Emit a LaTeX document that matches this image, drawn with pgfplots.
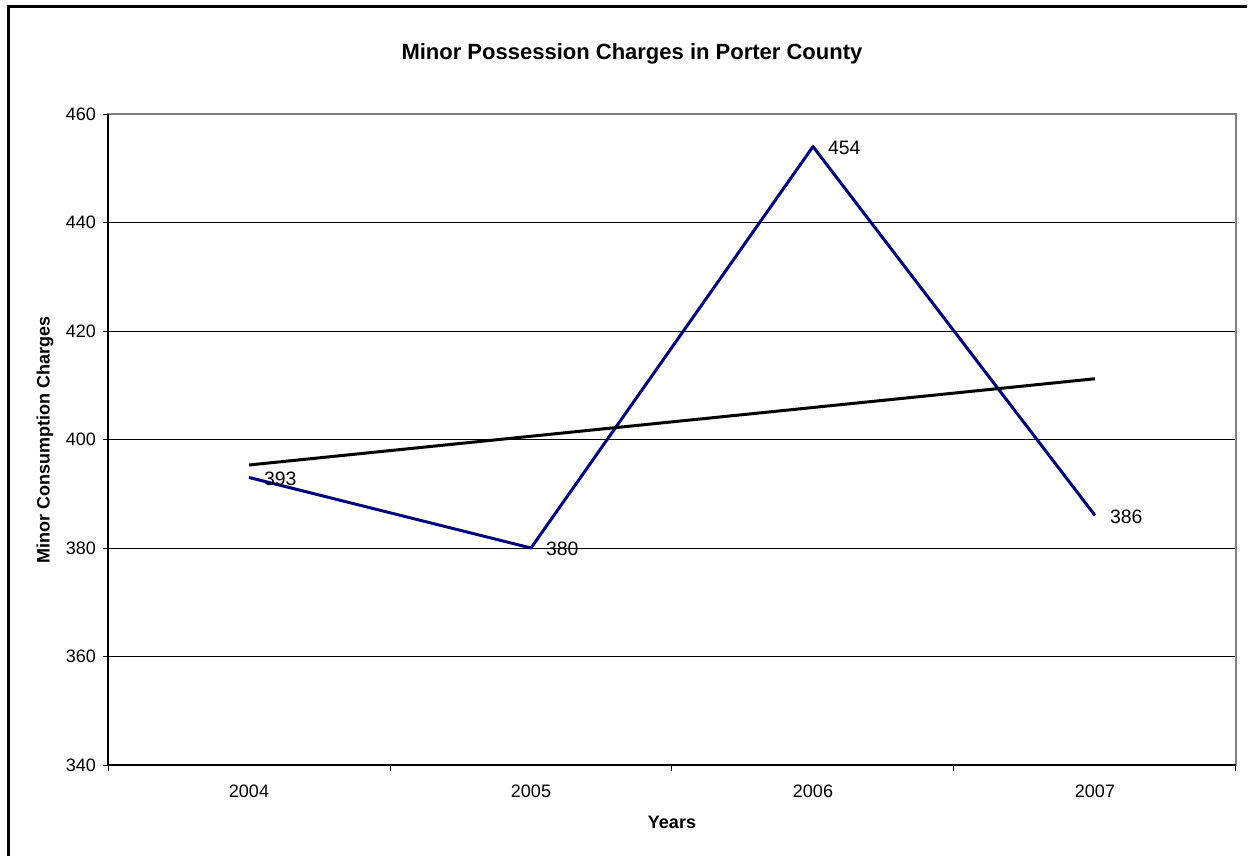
\documentclass[border=0pt]{standalone}
\usepackage{fontspec}
\setmainfont{Liberation Sans}
\usepackage{pgfplots}
\pgfplotsset{compat=1.18}
\definecolor{seriesnavy}{RGB}{0,0,128}
\definecolor{framegray}{RGB}{128,128,128}

\begin{document}
\begin{tikzpicture}
% page extent and the chart frame (left and top edges)
\useasboundingbox (0,0) rectangle (627.5pt,-428pt);
\draw[line width=1.5pt] (4pt,-428pt) -- (4pt,-3.5pt) -- (623.5pt,-3.5pt);
\begin{axis}[
  at={(54pt,-382.5pt)}, anchor=south west,
  scale only axis, width=564pt, height=325.5pt,
  xmin=-0.5, xmax=3.5, ymin=340, ymax=460,
  xtick={0,1,2,3}, xticklabels={2004,2005,2006,2007},
  major x tick style={draw=none},
  minor xtick={-0.5,0.5,1.5,2.5,3.5},
  minor tick length=3pt,
  ytick={340,360,...,460},
  tick pos=left,
  tick align=outside, major tick length=2.5pt,
  tick style={black, line width=0.5pt},
  ymajorgrids, grid style={black, line width=0.5pt},
  axis line style={framegray, line width=1pt},
  ticklabel style={font=\fontsize{9}{10.8}\selectfont},
  xticklabel style={yshift=-4pt},
  /pgf/number format/assume math mode=true,
  title={Minor Possession Charges in Porter County},
  title style={at={(axis description cs:0.4645,1.0737)}, anchor=center,
    font=\fontsize{11}{13}\selectfont\bfseries},
  xlabel={Years},
  xlabel style={at={(axis description cs:0.5,-0.0876)}, anchor=center,
    font=\fontsize{9}{10.8}\selectfont\bfseries},
  ylabel={Minor Consumption Charges},
  ylabel style={at={(axis description cs:-0.0559,0.5)}, anchor=center, rotate=0,
    font=\fontsize{9}{10.8}\selectfont\bfseries},
  clip=false,
]
\addplot[seriesnavy, line width=1.5pt, line join=round,
  nodes near coords,
  every node near coord/.append style={anchor=west, xshift=3.5pt, yshift=-0.5pt,
    text=black, font=\fontsize{9.7}{11.6}\selectfont},
  /pgf/number format/assume math mode=true]
  coordinates {(0,393) (1,380) (2,454) (3,386)};
% linear trend of the four yearly counts
\addplot[black, line width=1.5pt] coordinates {(0,395.3) (3,411.2)};
% left and bottom axis lines in black over the grey plot-area border
\draw[black, line width=0.75pt] (rel axis cs:0,1) -- (rel axis cs:0,0) -- (rel axis cs:1,0);
\end{axis}
\end{tikzpicture}
\end{document}
